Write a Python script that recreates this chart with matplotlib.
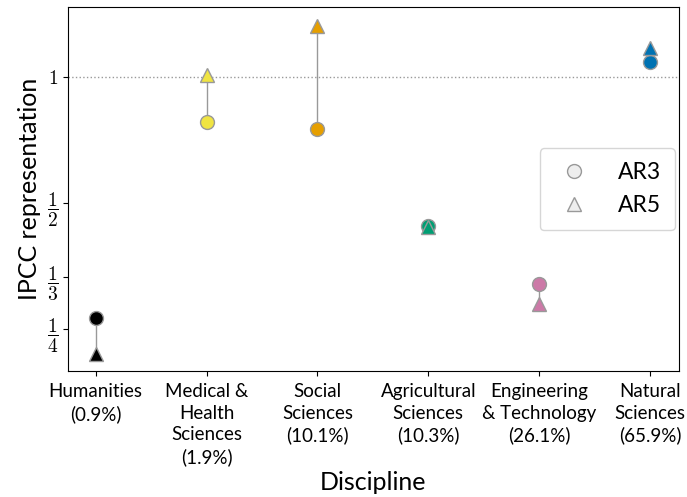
import numpy as np
import matplotlib.pyplot as plt
from matplotlib.lines import Line2D

plt.rcParams['mathtext.fontset'] = 'cm'
plt.rcParams['font.family'] = ['Lato', 'DejaVu Sans']

disciplines = ['Humanities\n(0.9%)', 'Medical &\nHealth\nSciences\n(1.9%)',
               'Social\nSciences\n(10.1%)', 'Agricultural\nSciences\n(10.3%)',
               'Engineering\n& Technology\n(26.1%)', 'Natural\nSciences\n(65.9%)']
colors = ['#000000', '#f0e442', '#e69f00', '#009e73', '#cc79a7', '#0072b2']
ar3 = [0.266, 0.781, 0.751, 0.441, 0.320, 1.087]
ar5 = [0.218, 1.011, 1.324, 0.438, 0.287, 1.170]

fig, ax = plt.subplots(figsize=(6.87, 4.97), dpi=100)

x = np.arange(len(disciplines))
ax.axhline(1, color='#999999', linestyle=':', linewidth=1, zorder=1)
for i in x:
    ax.plot([i, i], [ar3[i], ar5[i]], color='#999999', linewidth=1, zorder=2)
    ax.plot(i, ar3[i], 'o', markersize=10, color=colors[i],
            markeredgecolor='#999999', markeredgewidth=1, zorder=3)
    ax.plot(i, ar5[i], '^', markersize=10, color=colors[i],
            markeredgecolor='#999999', markeredgewidth=1, zorder=3)

ax.set_yscale('log')
ax.set_ylim(0.198, 1.47)
ax.set_xlim(-0.25, 5.26)
ax.set_yticks([1/4, 1/3, 1/2, 1])
ax.set_yticklabels([r'$\dfrac{1}{4}$', r'$\dfrac{1}{3}$', r'$\dfrac{1}{2}$', r'$1$'], fontsize=14)
ax.yaxis.set_minor_locator(plt.NullLocator())
ax.set_xticks(x)
ax.set_xticklabels(disciplines, fontsize=13.5, linespacing=1.32)
ax.tick_params(axis='x', pad=5)
ax.set_ylabel('IPCC representation', fontsize=18)
ax.set_xlabel('Discipline', fontsize=18, labelpad=4)

handles = [Line2D([], [], marker='o', linestyle='none', markersize=10,
                  color='#eeeeee', markeredgecolor='#999999', label='AR3'),
           Line2D([], [], marker='^', linestyle='none', markersize=10,
                  color='#eeeeee', markeredgecolor='#999999', label='AR5')]
ax.legend(handles=handles, loc='center right', bbox_to_anchor=(1.012, 0.5),
          fontsize=16.5, frameon=True, edgecolor='#cccccc', handletextpad=1.0,
          handlelength=1.8, labelspacing=0.55, borderpad=0.6)

plt.subplots_adjust(left=0.099, right=0.988, top=0.986, bottom=0.253)
plt.savefig('out.png', dpi=100)
